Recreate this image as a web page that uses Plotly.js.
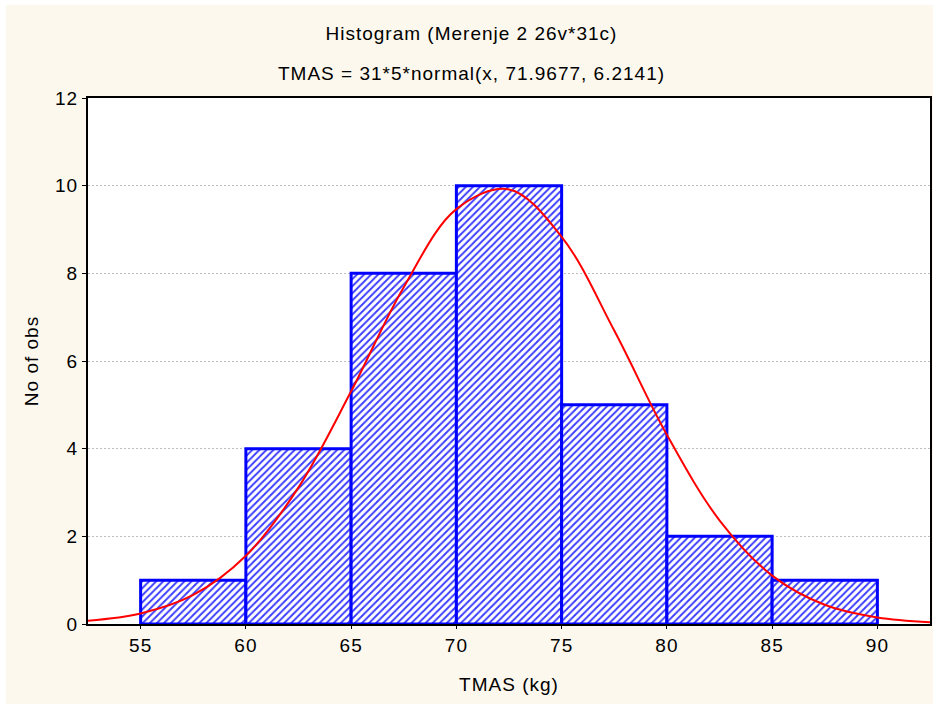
<!DOCTYPE html>
<html>
<head>
<meta charset="utf-8">
<script src="https://cdn.plot.ly/plotly-3.0.1.min.js"></script>
<style>
  html, body { margin: 0; padding: 0; background: #ffffff; width: 933px; height: 704px; overflow: hidden; }
  #chart { position: absolute; left: 6px; top: 5px; width: 927px; height: 699px; }
  #chart svg text { letter-spacing: 1px; }
</style>
</head>
<body>
<div id="chart"></div>
<script>
// Histogram bins (centres, width 5) and counts
const binCenters = [57.5, 62.5, 67.5, 72.5, 77.5, 82.5, 87.5];
const counts = [1, 4, 8, 10, 5, 2, 1];

// Fitted normal curve, values read along x
const curveX = [52.5, 55, 57.5, 60, 62.5, 65, 67.5, 70, 72.5, 75, 77.5, 80, 82.5, 85, 87.5, 90, 92.5];
const curveY = [0.074, 0.239, 0.662, 1.557, 3.117, 5.308, 7.685, 9.464, 9.914, 8.834, 6.695, 4.316, 2.366, 1.104, 0.438, 0.148, 0.042];

const xTicks = [55, 60, 65, 70, 75, 80, 85, 90];
const yTicks = [0, 2, 4, 6, 8, 10, 12];

const titleLine1 = 'Histogram (Merenje 2 26v*31c)';
const titleLine2 = 'TMAS = 31*5*normal(x, 71.9677, 6.2141)';

const font = 'Liberation Sans, Arial, sans-serif';
const fs = 19;

const traces = [
  {
    type: 'bar',
    x: binCenters,
    y: counts,
    width: 5,
    marker: {
      color: '#ffffff',
      line: { color: '#0000ff', width: 3 },
      pattern: { shape: '/', fgcolor: '#3a3aff', bgcolor: '#ffffff', size: 5, solidity: 0.38 }
    },
    hoverinfo: 'x+y',
    showlegend: false
  },
  {
    type: 'scatter',
    mode: 'lines',
    x: curveX,
    y: curveY,
    line: { color: '#ff0000', width: 2, shape: 'spline', smoothing: 1 },
    showlegend: false
  }
];

const layout = {
  width: 927,
  height: 699,
  paper_bgcolor: '#fdf8ee',
  plot_bgcolor: '#ffffff',
  margin: { l: 82, r: 3, t: 93, b: 80 },
  font: { family: font, size: fs, color: '#000000' },
  bargap: 0,
  xaxis: {
    range: [52.5, 92.5],
    tickvals: xTicks,
    ticktext: xTicks.map(String),
    showgrid: false,
    zeroline: false,
    showline: true,
    linecolor: '#000000',
    linewidth: 2,
    mirror: true,
    ticks: 'outside',
    ticklen: 3,
    tickcolor: '#000000',
    tickfont: { family: font, size: fs },
    title: { text: 'TMAS (kg)', font: { family: font, size: fs }, standoff: 23 }
  },
  yaxis: {
    range: [0, 12],
    tickvals: yTicks,
    ticktext: yTicks.map(String),
    showgrid: true,
    gridcolor: '#bdbdbd',
    griddash: '2px,2px',
    gridwidth: 1,
    zeroline: false,
    showline: true,
    linecolor: '#000000',
    linewidth: 2,
    mirror: true,
    ticks: 'outside',
    ticklen: 4,
    tickcolor: '#000000',
    tickfont: { family: font, size: fs },
    title: { text: 'No of obs', font: { family: font, size: fs }, standoff: 13 }
  },
  annotations: [
    { text: titleLine1, xref: 'paper', yref: 'paper', x: 0.456, y: 1, yshift: 65, showarrow: false,
      font: { family: font, size: fs }, xanchor: 'center', yanchor: 'middle' },
    { text: titleLine2, xref: 'paper', yref: 'paper', x: 0.456, y: 1, yshift: 25, showarrow: false,
      font: { family: font, size: fs }, xanchor: 'center', yanchor: 'middle' }
  ]
};

Plotly.newPlot('chart', traces, layout, { displayModeBar: false, staticPlot: true });
</script>
</body>
</html>
